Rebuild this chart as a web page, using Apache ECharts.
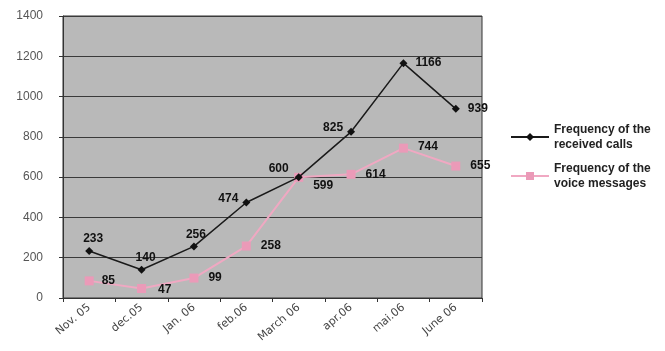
<!DOCTYPE html>
<html>
<head>
<meta charset="utf-8">
<style>
  html, body { margin: 0; padding: 0; background: #fff; }
  #chart { width: 665px; height: 351px; }
</style>
<script src="https://cdn.jsdelivr.net/npm/echarts@6/dist/echarts.min.js"></script>
</head>
<body>
<div id="chart"></div>
<script>
// Monthly call statistics
const months = ['Nov. 05', 'dec.05', 'Jan. 06', 'feb.06', 'March 06', 'apr.06', 'mai.06', 'June 06'];
const receivedCalls = [233, 140, 256, 474, 600, 825, 1166, 939];
const voiceMessages = [85, 47, 99, 258, 599, 614, 744, 655];
const yTicks = [0, 200, 400, 600, 800, 1000, 1200, 1400];

// where each value label sits relative to its point
const callsLabelPos = ['top', 'top', 'top', 'left', 'left', 'left', 'right', 'right'];
const callsLabelOffset = [[4, 2], [4, 2], [2, 2], [0, -4], [-2, -8], [0, -4], [4, 0], [4, 0]];
const msgLabelPos = ['right', 'right', 'right', 'right', 'right', 'right', 'right', 'right'];
const msgLabelOffset = [[2, 0], [6, 1], [4, 0], [4, 0], [4, 8], [4, 0], [4, -1], [4, 0]];

const FONT = 'Liberation Sans, Arial, sans-serif';
const labelFont = { fontFamily: FONT, fontWeight: 'bold', fontSize: 12, color: '#111' };

function buildData(values, pos, off) {
  return values.map((v, i) => ({
    value: v,
    label: { position: pos[i], offset: off[i] }
  }));
}

const chart = echarts.init(document.getElementById('chart'));
chart.setOption({
  animation: false,
  backgroundColor: '#fff',
  grid: {
    left: 63, right: 183, top: 16, bottom: 53,
    show: true, backgroundColor: '#b9b9b9', borderColor: '#333', borderWidth: 1
  },
  legend: {
    orient: 'vertical',
    left: 505, top: 117,
    itemWidth: 38, itemHeight: 10, itemGap: 9,
    textStyle: { fontFamily: FONT, fontWeight: 'bold', fontSize: 12, color: '#222', lineHeight: 15 },
    data: ['Frequency of the\nreceived calls', 'Frequency of the\nvoice messages']
  },
  xAxis: {
    type: 'category',
    data: months,
    boundaryGap: true,
    axisLine: { lineStyle: { color: '#333', width: 1 } },
    axisTick: { show: true, length: 4, lineStyle: { color: '#333' } },
    axisLabel: {
      rotate: 40, interval: 0, margin: 8,
      fontFamily: 'DejaVu Sans, sans-serif', fontSize: 11, color: '#444'
    },
    splitLine: { show: false }
  },
  yAxis: {
    type: 'value',
    min: yTicks[0], max: yTicks[yTicks.length - 1], interval: 200,
    axisLine: { show: true, lineStyle: { color: '#333', width: 1 } },
    axisTick: { show: true, length: 4, lineStyle: { color: '#333' } },
    axisLabel: {
      margin: 20, fontFamily: FONT, fontSize: 12, color: '#555',
      formatter: v => String(v)
    },
    splitLine: { show: true, lineStyle: { color: '#3a3a3a', width: 1 } }
  },
  series: [
    {
      name: 'Frequency of the\nreceived calls',
      type: 'line',
      data: buildData(receivedCalls, callsLabelPos, callsLabelOffset),
      symbol: 'diamond', symbolSize: 8,
      itemStyle: { color: '#111' },
      lineStyle: { color: '#1a1a1a', width: 1.5 },
      label: Object.assign({ show: true, distance: 4 }, labelFont),
      z: 3
    },
    {
      name: 'Frequency of the\nvoice messages',
      type: 'line',
      data: buildData(voiceMessages, msgLabelPos, msgLabelOffset),
      symbol: 'rect', symbolSize: 9,
      itemStyle: { color: '#eb9ab8' },
      lineStyle: { color: '#f0a8c2', width: 2 },
      label: Object.assign({ show: true, distance: 6 }, labelFont),
      z: 2
    }
  ]
});
</script>
</body>
</html>
